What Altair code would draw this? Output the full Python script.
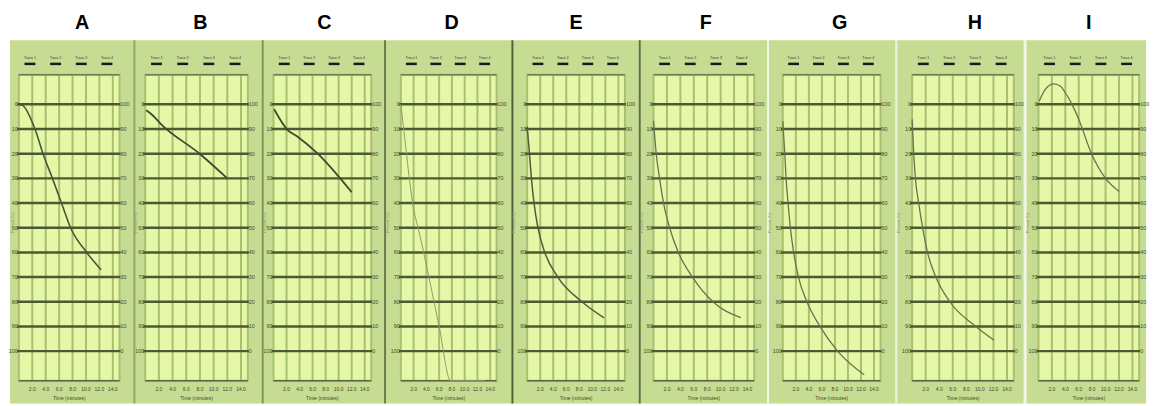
import altair as alt
import pandas as pd

# ---------------- data ----------------
PANELS = ["A", "B", "C", "D", "E", "F", "G", "H", "I"]

A_TIME = [0.0, 0.6, 2.4, 3.6, 5.0, 6.35, 7.7, 10.1, 12.25]
A_LEVEL = [0, 0.5, 10, 20, 30, 40, 50, 60, 67]

B_TIME = [0.15, 1.0, 2.3, 8.0, 12.0]
B_LEVEL = [2.4, 4.2, 8.0, 20.1, 30.0]

C_TIME = [0.1, 2.1, 3.6, 6.8, 10.3, 12.0]
C_LEVEL = [2.0, 10.2, 12.9, 20.0, 30.2, 35.6]

D_TIME = [0.0, 0.25, 2.05, 2.8, 4.4, 6.0, 7.8, 13.2]
D_LEVEL = [0, 5.5, 43, 51, 70, 90, 112, 112]

E_TIME = [0.0, 0.35, 0.65, 1.05, 1.65, 2.7, 4.7, 8.4, 11.8]
E_LEVEL = [9, 20, 30, 40, 50, 60, 70, 80, 86.5]

F_TIME = [0.0, 0.4, 0.9, 1.5, 2.4, 3.7, 5.8, 8.85, 13.0]
F_LEVEL = [6.7, 20, 30, 40, 50, 60, 70, 80, 86.4]

G_TIME = [0.0, 0.3, 0.5, 0.8, 1.16, 1.66, 2.4, 3.7, 5.7, 8.4, 12.5]
G_LEVEL = [6.9, 20, 30, 40, 50, 60, 70, 80, 90, 100, 109.6]

H_TIME = [0.0, 0.24, 0.48, 0.97, 1.55, 2.27, 3.5, 5.56, 9.4, 12.1]
H_LEVEL = [6, 20, 30, 40, 50, 60, 70, 80, 90, 95.6]

I_TIME = [0.1, 1.0, 2.3, 3.3, 4.0, 5.0, 6.0, 7.9, 10.0, 12.0]
I_LEVEL = [-1.3, -6, -8.3, -7.3, -4.7, 0, 6, 20, 30, 35.3]

Y_TICKS = [0, 10, 20, 30, 40, 50, 60, 70, 80, 90, 100]
X_TICKS = [2, 4, 6, 8, 10, 12, 14]
TRACES = ["Trace 1", "Trace 2", "Trace 3", "Trace 4"]
X_TITLE = "Time (minutes)"
Y_TITLE = "Percent (%)"

CURVES = {
    "A": (A_TIME, A_LEVEL), "B": (B_TIME, B_LEVEL), "C": (C_TIME, C_LEVEL),
    "D": (D_TIME, D_LEVEL), "E": (E_TIME, E_LEVEL), "F": (F_TIME, F_LEVEL),
    "G": (G_TIME, G_LEVEL), "H": (H_TIME, H_LEVEL), "I": (I_TIME, I_LEVEL),
}

# ---------------- layout & style ----------------
LAYOUT = {
    "A": (9, 102, 14), "B": (12, 104, 14), "C": (12, 99, 13),
    "D": (17, 97, 15), "E": (16, 99, 14), "F": (15, 102, 13),
    "G": (16, 99, 15), "H": (17, 103, 10), "I": (14, 102, 7),
}
LETTER_SHIFT = {"A": 13, "B": 4, "C": 2, "D": 3, "E": 0, "F": 2, "G": 8, "H": 12, "I": 0}
SEP_COLOR = {"A": None, "B": "#8fa468", "C": "#7d9258", "D": "#6a7c4a", "E": "#4f6038",
             "F": "#5f7044", "G": "#f2f6e4", "H": "#eef3dc", "I": "#f4f7e8"}
CURVE_STYLE = {"A": ("#4a5535", 1.6), "B": ("#3d4a2c", 1.8), "C": ("#3d4a2c", 1.8),
               "D": ("#8d9a70", 1.0), "E": ("#4f5a3a", 1.5), "F": ("#66724d", 1.3),
               "G": ("#66724d", 1.3), "H": ("#66724d", 1.3), "I": ("#66724d", 1.3)}

PLOT_H = 310
TOP = 65
FRAME_TOP = 35
BOTTOM = 23

FRAME = "#c6dc92"
PLOT = "#e6f7a8"
VGRID = "#a8c070"
HGRID = "#4b5a33"
LABEL = "#3d4a2a"
SANS = "Liberation Sans"

Y_DOMAIN = [-12, 112]
X_DOMAIN = [0, 15]
TRACE_FIRST, TRACE_STEP = 0.11, 0.255   # fraction of plot width


def panel(key):
    lm, w, rm = LAYOUT[key]
    t, v = CURVES[key]
    one = pd.DataFrame({"panel": [key], "xt": [X_TITLE], "yt": [Y_TITLE]})
    ysc = alt.Scale(domain=Y_DOMAIN, reverse=True, nice=False, zero=False)
    xsc = alt.Scale(domain=X_DOMAIN, nice=False, zero=False)
    span = X_DOMAIN[1] - X_DOMAIN[0]

    layers = []
    # white strip above the frame, frame, separator, plot background
    layers.append(alt.Chart(one).mark_rect(fill="white").encode(
        x=alt.value(-lm), x2=alt.value(w + rm), y=alt.value(-TOP), y2=alt.value(-FRAME_TOP)))
    layers.append(alt.Chart(one).mark_rect(fill=FRAME).encode(
        x=alt.value(-lm), x2=alt.value(w + rm), y=alt.value(-FRAME_TOP), y2=alt.value(PLOT_H + BOTTOM)))
    if SEP_COLOR[key]:
        layers.append(alt.Chart(one).mark_rule(color=SEP_COLOR[key], strokeWidth=2).encode(
            x=alt.value(-lm + 1), y=alt.value(-FRAME_TOP), y2=alt.value(PLOT_H + BOTTOM)))
    layers.append(alt.Chart(one).mark_rect(fill=PLOT, stroke=VGRID, strokeWidth=2).encode(
        x=alt.value(0), x2=alt.value(w), y=alt.value(0), y2=alt.value(PLOT_H)))

    # vertical grid lines + x tick labels
    xdf = pd.DataFrame({"t": X_TICKS})
    layers.append(alt.Chart(xdf).mark_rule(color=VGRID, strokeWidth=2).encode(
        x=alt.X("t:Q", scale=xsc, axis=None), y=alt.value(0), y2=alt.value(PLOT_H)))
    layers.append(alt.Chart(xdf).transform_calculate(lab="format(datum.t, '.1f')").mark_text(
        font=SANS, fontSize=5, color=LABEL, align="center", baseline="middle").encode(
        x=alt.X("t:Q", scale=xsc, axis=None), y=alt.value(PLOT_H + 8), text="lab:N"))
    layers.append(alt.Chart(one).mark_text(font=SANS, fontSize=5, color=LABEL,
                                           align="center", baseline="middle").encode(
        x=alt.value(w / 2), y=alt.value(PLOT_H + 17.5), text="xt:N"))

    # horizontal lines + left and right labels
    ydf = pd.DataFrame({"v": Y_TICKS})
    layers.append(alt.Chart(ydf).mark_rule(color=HGRID, strokeWidth=2.5).encode(
        y=alt.Y("v:Q", scale=ysc, axis=None), x=alt.value(-2), x2=alt.value(w + 1)))
    layers.append(alt.Chart(ydf).transform_calculate(lab="'' + datum.v").mark_text(
        font=SANS, fontSize=5.5, color=LABEL, align="right", baseline="middle").encode(
        y=alt.Y("v:Q", scale=ysc, axis=None), x=alt.value(-1), text="lab:N"))
    layers.append(alt.Chart(ydf).transform_calculate(lab="'' + (100 - datum.v)").mark_text(
        font=SANS, fontSize=5.5, color=LABEL, align="left", baseline="middle").encode(
        y=alt.Y("v:Q", scale=ysc, axis=None), x=alt.value(w + 1), text="lab:N"))
    layers.append(alt.Chart(one).mark_text(font=SANS, fontSize=4, color="#8a9a68", angle=270,
                                           align="center", baseline="middle").encode(
        x=alt.value(max(-13, -lm + 3)), y=alt.value(150), text="yt:N"))

    # plot top / bottom borders
    layers.append(alt.Chart(one).mark_rule(color="#6f8050", strokeWidth=1.5).encode(
        x=alt.value(0), x2=alt.value(w), y=alt.value(0)))
    layers.append(alt.Chart(one).mark_rule(color="#5a6a40", strokeWidth=1.5).encode(
        x=alt.value(0), x2=alt.value(w), y=alt.value(PLOT_H)))

    # the curve
    color, sw = CURVE_STYLE[key]
    cdf = pd.DataFrame({"t": t, "v": v})
    layers.append(alt.Chart(cdf).mark_line(color=color, strokeWidth=sw, interpolate="monotone").encode(
        x=alt.X("t:Q", scale=xsc, axis=None), y=alt.Y("v:Q", scale=ysc, axis=None)))

    # trace legend on top
    tdf = pd.DataFrame({"trace": TRACES})
    tdf["pos"] = [X_DOMAIN[0] + span * (TRACE_FIRST + TRACE_STEP * i) for i in range(len(TRACES))]
    layers.append(alt.Chart(tdf).mark_text(font=SANS, fontSize=3.6, color="#333333",
                                           baseline="middle").encode(
        x=alt.X("pos:Q", scale=xsc, axis=None), y=alt.value(-16.5), text="trace:N"))
    layers.append(alt.Chart(tdf).mark_rule(strokeWidth=2.5, color="#1a1a1a",
                                           xOffset=-5.5, x2Offset=5.5).encode(
        x=alt.X("pos:Q", scale=xsc, axis=None), x2="pos:Q", y=alt.value(-11)))

    # panel letter
    layers.append(alt.Chart(one).mark_text(font=SANS, fontSize=20, fontWeight="bold",
                                           baseline="alphabetic", align="center", color="black").encode(
        text="panel:N", x=alt.value(w / 2 + LETTER_SHIFT[key]), y=alt.value(-46)))

    return alt.layer(*layers).properties(width=w, height=PLOT_H)


chart = alt.hconcat(*[panel(k) for k in PANELS], spacing=0).properties(
    padding=0).configure_view(strokeWidth=0)

chart.save("out.html", embed_options={"renderer": "svg", "actions": False})
